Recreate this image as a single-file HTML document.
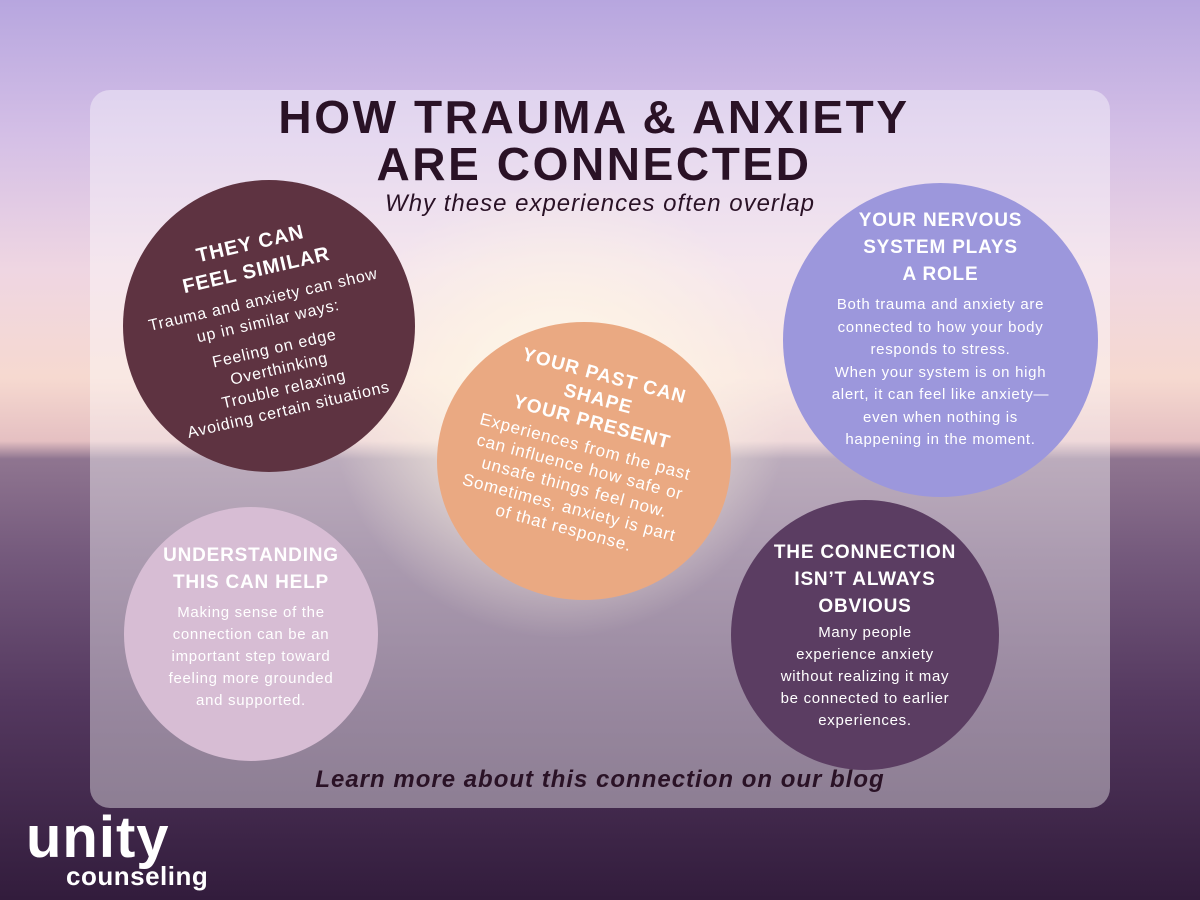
<!DOCTYPE html>
<html><head><meta charset="utf-8"><style>
*{margin:0;padding:0;box-sizing:border-box}
body{width:1200px;height:900px;overflow:hidden;position:relative;font-family:"Liberation Sans",sans-serif;
background:linear-gradient(180deg,#b7a6df 0%,#d4bfe6 15%,#efd6e2 30%,#f6d9d0 42%,#e5c0c2 49%,#8f7590 51%,#74597c 62%,#54385f 78%,#321c3c 100%);}
.sun{position:absolute;left:330px;top:180px;width:460px;height:460px;border-radius:50%;background:radial-gradient(circle,rgba(255,250,225,.95) 0%,rgba(255,240,210,.6) 35%,rgba(255,230,210,0) 70%)}
.panel{position:absolute;left:90px;top:90px;width:1020px;height:718px;border-radius:20px;background:rgba(255,255,255,.4)}
.c{position:absolute;border-radius:50%;color:#fff;text-align:center;display:flex;flex-direction:column;align-items:center;justify-content:center}
.c h3{font-weight:bold;font-size:19px;line-height:27px;letter-spacing:.8px}
.c p{font-size:15px;line-height:22px;margin-top:6px;letter-spacing:.7px}
.t{position:absolute;left:0;width:1200px;text-align:center}
</style></head><body>
<div class="sun"></div>
<div class="panel"></div>
<div class="t" style="top:94px;left:-6px;font-size:46px;font-weight:bold;color:#2a1226;line-height:47px;letter-spacing:2.6px">HOW TRAUMA &amp; ANXIETY<br>ARE CONNECTED</div>
<div class="t" style="top:190px;font-size:24px;font-style:italic;color:#2a1226;letter-spacing:1px">Why these experiences often overlap</div>

<div class="c" style="left:123px;top:180px;width:292px;height:292px;background:#5e3341;">
 <div style="transform:rotate(-13deg)">
 <h3 style="font-size:20px;letter-spacing:1px">THEY CAN<br>FEEL SIMILAR</h3>
 <p style="font-size:16px;letter-spacing:.8px">Trauma and anxiety can show<br>up in similar ways:</p>
 <p style="font-size:16px;line-height:21px;letter-spacing:.8px">Feeling on edge<br>Overthinking<br>Trouble relaxing<br>Avoiding certain situations</p>
 </div></div>

<div class="c" style="left:437px;top:322px;width:294px;height:278px;background:#eaa982;">
 <div style="transform:rotate(15deg);margin-top:-20px">
 <h3 style="font-size:19px;line-height:24px;letter-spacing:1px">YOUR PAST CAN<br>SHAPE<br>YOUR PRESENT</h3>
 <p style="font-size:17px;line-height:21px;margin-top:2px;letter-spacing:.8px">Experiences from the past<br>can influence how safe or<br>unsafe things feel now.<br>Sometimes, anxiety is part<br>of that response.</p>
 </div></div>

<div class="c" style="left:783px;top:183px;width:315px;height:314px;background:#9c97dc;justify-content:flex-start;padding-top:24px">
 <h3>YOUR NERVOUS<br>SYSTEM PLAYS<br>A ROLE</h3>
 <p style="line-height:22.5px">Both trauma and anxiety are<br>connected to how your body<br>responds to stress.<br>When your system is on high<br>alert, it can feel like anxiety—<br>even when nothing is<br>happening in the moment.</p>
</div>

<div class="c" style="left:124px;top:507px;width:254px;height:254px;background:#d7bdd4;">
 <h3 style="margin-top:-14px">UNDERSTANDING<br>THIS CAN HELP</h3>
 <p>Making sense of the<br>connection can be an<br>important step toward<br>feeling more grounded<br>and supported.</p>
</div>

<div class="c" style="left:731px;top:500px;width:268px;height:270px;background:#5b3d62;">
 <h3>THE CONNECTION<br>ISN’T ALWAYS<br>OBVIOUS</h3>
 <p style="margin-top:2px">Many people<br>experience anxiety<br>without realizing it may<br>be connected to earlier<br>experiences.</p>
</div>

<div class="t" style="top:766px;font-size:24px;font-weight:bold;font-style:italic;color:#2a1226;letter-spacing:1px">Learn more about this connection on our blog</div>

<div style="position:absolute;left:26px;top:812px;color:#fff;font-weight:bold;font-size:58px;line-height:52px;letter-spacing:1px">unity</div>
<div style="position:absolute;left:66px;top:862px;color:#fff;font-size:26px;line-height:28px;font-weight:bold;letter-spacing:.5px">counseling</div>
</body></html>
